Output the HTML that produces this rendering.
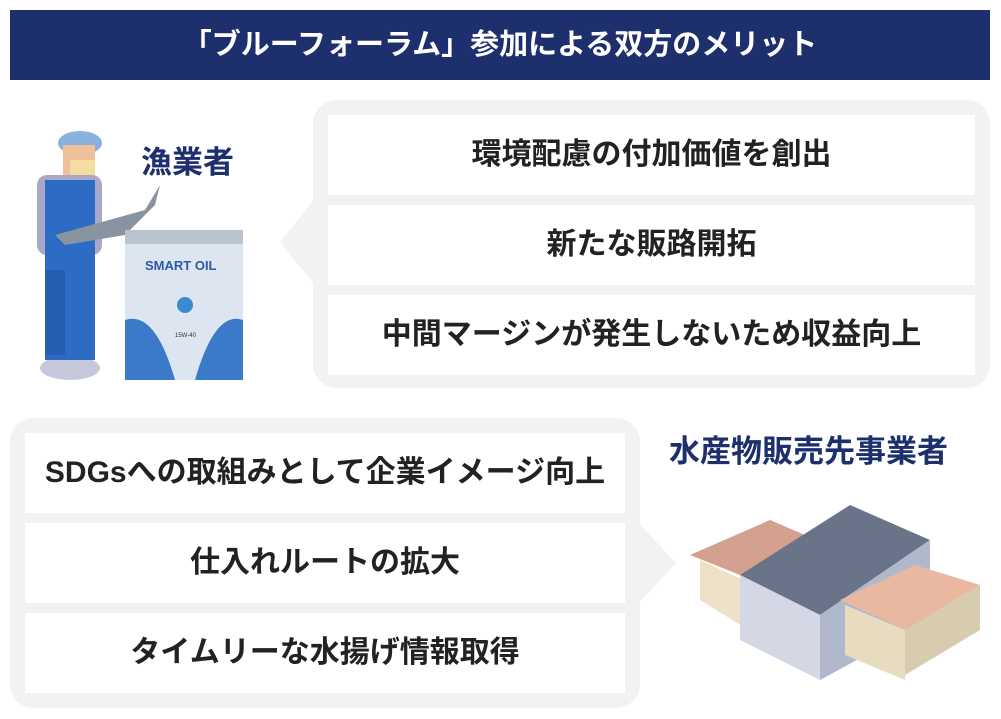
<!DOCTYPE html>
<html><head><meta charset="utf-8"><style>
body{margin:0;width:1001px;height:719px;background:#fff;position:relative;overflow:hidden;font-family:"Liberation Sans","Noto Sans CJK JP",sans-serif}
.abs{position:absolute}
.title{left:10px;top:10px;width:980px;height:70px;background:#1e2f6e;color:#fff;font-size:29px;font-weight:bold;text-align:center;line-height:70px}
.panel{background:#f2f2f2;border-radius:24px}
.row{background:#fff;color:#222;font-size:30px;font-weight:bold;text-align:center;line-height:80px;height:80px;white-space:nowrap}
.lbl{color:#1e2f6e;font-size:31px;font-weight:bold;white-space:nowrap}
</style></head><body>
<div class="abs title">「ブルーフォーラム」参加による双方のメリット</div>

<div class="abs panel" style="left:313px;top:100px;width:677px;height:288px"></div>
<svg class="abs" style="left:280px;top:200px" width="40" height="90"><polygon points="34,0 0,42 34,84" fill="#f2f2f2"/></svg>
<div class="abs row" style="left:328px;top:115px;width:647px">環境配慮の付加価値を創出</div>
<div class="abs row" style="left:328px;top:205px;width:647px">新たな販路開拓</div>
<div class="abs row" style="left:328px;top:295px;width:647px">中間マージンが発生しないため収益向上</div>

<div class="abs panel" style="left:10px;top:418px;width:630px;height:290px"></div>
<svg class="abs" style="left:636px;top:520px" width="45" height="90"><polygon points="0,0 40,43 0,86" fill="#f2f2f2"/></svg>
<div class="abs row" style="left:25px;top:433px;width:600px">SDGsへの取組みとして企業イメージ向上</div>
<div class="abs row" style="left:25px;top:523px;width:600px">仕入れルートの拡大</div>
<div class="abs row" style="left:25px;top:613px;width:600px">タイムリーな水揚げ情報取得</div>

<div class="abs lbl" style="left:141px;top:137px">漁業者</div>
<div class="abs lbl" style="left:669px;top:426px">水産物販売先事業者</div>

<svg class="abs" style="left:25px;top:120px" width="240" height="270">
<ellipse cx="45" cy="248" rx="30" ry="12" fill="#c8c8dc"/>
<ellipse cx="55" cy="23" rx="22" ry="12" fill="#8ab0e0"/>
<rect x="38" y="25" width="32" height="35" fill="#f0c09a"/>
<rect x="45" y="40" width="25" height="18" fill="#f5dca0"/>
<rect x="12" y="55" width="65" height="80" rx="10" fill="#a8a8c8"/>
<rect x="20" y="60" width="50" height="180" fill="#2c6cc4"/>
<rect x="20" y="150" width="20" height="85" fill="#2560b0"/>
<path d="M30 115 L120 90 L135 65 L130 85 L100 115 L40 125Z" fill="#8a94a0"/>
<rect x="100" y="110" width="118" height="150" rx="6" fill="#dde6f0"/>
<rect x="100" y="110" width="118" height="14" fill="#b8c4d0"/>
<path d="M100 200 Q130 190 150 260 L100 260Z M218 200 Q190 190 170 260 L218 260Z" fill="#3a7ac8"/>
<text x="120" y="150" font-size="13" font-weight="bold" fill="#2a5aa8" font-family="Liberation Sans">SMART OIL</text>
<circle cx="160" cy="185" r="8" fill="#3a8ad0"/>
<text x="150" y="217" font-size="6" fill="#333" font-family="Liberation Sans">15W-40</text>
</svg>

<svg class="abs" style="left:690px;top:480px" width="300" height="200">
<polygon points="0,75 80,40 150,70 75,105" fill="#d4a090"/>
<polygon points="10,80 75,110 75,160 10,120" fill="#efe0c8"/>
<polygon points="50,95 160,25 240,60 130,135" fill="#6a7488"/>
<polygon points="50,95 130,135 130,200 50,160" fill="#d4d8e4"/>
<polygon points="130,135 240,60 240,140 130,200" fill="#b0b8cc"/>
<polygon points="150,120 225,85 290,105 215,150" fill="#e8b8a0"/>
<polygon points="155,125 215,150 215,200 155,175" fill="#e8dcc0"/>
<polygon points="215,150 290,105 290,150 215,195" fill="#d8ccb0"/>
</svg>
</body></html>
